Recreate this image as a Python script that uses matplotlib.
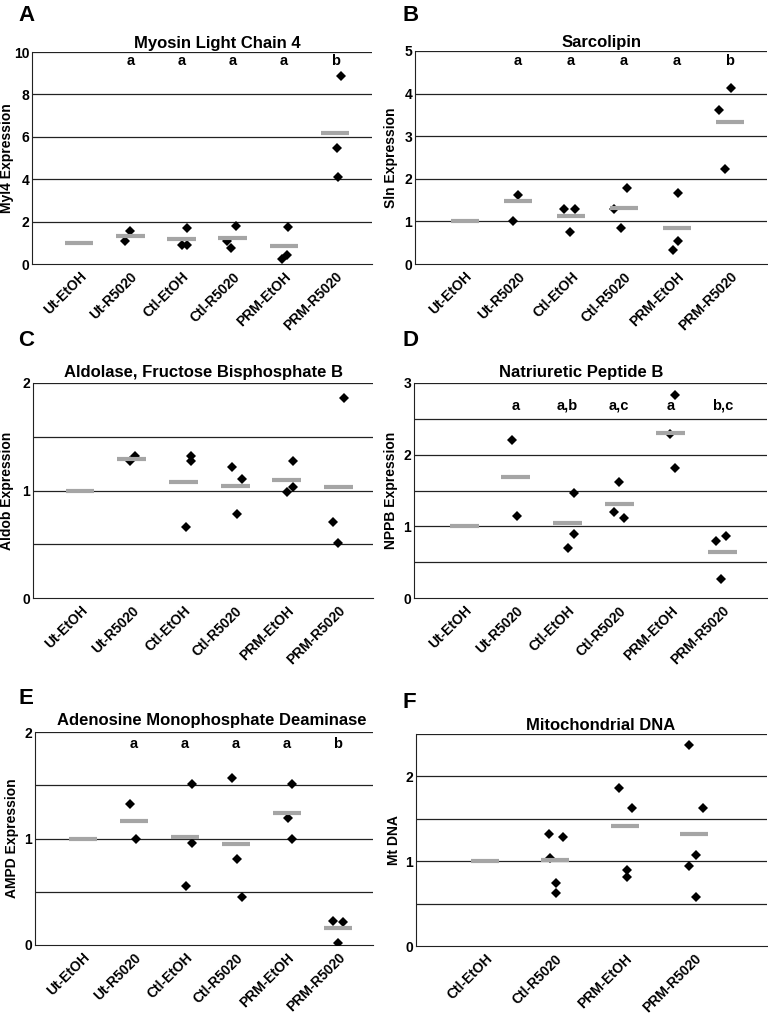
import matplotlib
matplotlib.use('Agg')
import matplotlib.pyplot as plt

plt.rcParams['font.family'] = ['Liberation Sans', 'DejaVu Sans']
plt.rcParams['font.weight'] = 'bold'

# categories
CATS6 = ['Ut-EtOH', 'Ut-R5020', 'Ctl-EtOH', 'Ctl-R5020', 'PRM-EtOH', 'PRM-R5020']
CATS4 = ['Ctl-EtOH', 'Ctl-R5020', 'PRM-EtOH', 'PRM-R5020']

# A: Myosin light chain 4
myl4_points = [[], [1.55, 1.1], [1.7, 0.9, 0.9], [1.8, 1.1, 0.77],
               [1.73, 0.42, 0.22], [8.88, 5.45, 4.11]]
myl4_means = [1.0, 1.33, 1.16, 1.25, 0.85, 6.18]
myl4_letters = ['', 'a', 'a', 'a', 'a', 'b']

# B: Sarcolipin
sln_points = [[], [1.62, 1.0], [1.3, 1.3, 0.75], [1.79, 1.3, 0.84],
              [1.67, 0.55, 0.32], [4.13, 3.61, 2.22]]
sln_means = [1.0, 1.48, 1.13, 1.31, 0.84, 3.33]
sln_letters = ['', 'a', 'a', 'a', 'a', 'b']

# C: Aldolase B
aldob_points = [[], [1.32, 1.27], [1.32, 1.27, 0.66], [1.22, 1.11, 0.78],
                [1.27, 1.035, 0.99], [1.86, 0.71, 0.51]]
aldob_means = [1.0, 1.29, 1.08, 1.045, 1.10, 1.035]

# D: Natriuretic peptide B
nppb_points = [[], [2.21, 1.15], [1.46, 0.9, 0.70], [1.62, 1.195, 1.11],
               [2.83, 2.29, 1.81], [0.87, 0.79, 0.26]]
nppb_means = [1.0, 1.69, 1.04, 1.31, 2.30, 0.64]
nppb_letters = ['', 'a', 'a,b', 'a,c', 'a', 'b,c']

# E: AMP deaminase
ampd_points = [[], [1.32, 0.995], [1.51, 0.96, 0.555], [1.566, 0.81, 0.45],
               [1.51, 1.19, 0.995], [0.23, 0.215, 0.02]]
ampd_means = [1.0, 1.16, 1.01, 0.945, 1.235, 0.16]
ampd_letters = ['', 'a', 'a', 'a', 'a', 'b']

# F: Mitochondrial DNA
mtdna_points = [[], [1.32, 1.28, 1.035, 0.74, 0.63], [1.86, 1.63, 0.90, 0.81],
                [2.37, 1.63, 1.07, 0.94, 0.575]]
mtdna_means = [1.0, 1.01, 1.42, 1.32]

# horizontal scatter of the diamonds (category units), layout only
myl4_jit = [[], [0.0, -0.1], [0.1, 0.0, 0.1], [0.07, -0.12, -0.03],
            [0.08, 0.06, -0.03], [0.12, 0.03, 0.05]]
sln_jit = [[], [0.0, -0.1], [-0.13, 0.08, -0.02], [0.06, -0.18, -0.06],
           [0.03, 0.03, -0.08], [0.02, -0.2, -0.1]]
aldob_jit = [[], [0.06, -0.03], [0.14, 0.14, 0.06], [-0.05, 0.13, 0.03],
             [0.12, 0.12, 0.01], [0.1, -0.11, 0.0]]
nppb_jit = [[], [-0.08, 0.03], [0.12, 0.12, 0.0], [0.0, -0.1, 0.1],
            [0.08, -0.02, 0.08], [0.06, -0.13, -0.03]]
ampd_jit = [[], [-0.07, 0.04], [0.13, 0.13, 0.03], [-0.07, 0.03, 0.13],
            [0.11, 0.03, 0.11], [-0.1, 0.1, 0.0]]
mtdna_jit = [[], [-0.08, 0.12, -0.07, 0.01, 0.01], [-0.08, 0.11, 0.03, 0.03],
             [-0.08, 0.13, 0.02, -0.08, 0.02]]

W, H = 768.0, 1016.0


def rect(left, top, right, bottom):
    return [left / W, 1 - bottom / H, (right - left) / W, (bottom - top) / H]


def draw_panel(fig, box, cats, points, jit, means, title, ylabel, ylim,
               grid, yticks, xlim, bar_half, title_x, title_pad, label_px,
               letters=None, letter_y=None):
    ax = fig.add_axes(rect(*box))
    for v in grid:
        ax.axhline(v, color='#222222', lw=0.9, zorder=1)
    for i, (pts, offs) in enumerate(zip(points, jit)):
        xs = [i + o for o in offs]
        ax.plot(xs, pts, linestyle='none', marker='D', markersize=4.8,
                color='black', markeredgewidth=0, zorder=3)
    ax.hlines(means, [i - bar_half for i in range(len(cats))],
              [i + bar_half for i in range(len(cats))],
              color='#a5a5a5', lw=3.0, zorder=4)
    if letters:
        for i, t in enumerate(letters):
            ax.text(i, letter_y, t, ha='center', va='center', fontsize=10.5,
                    fontweight='bold')
    ax.set_xlim(*xlim)
    ax.set_ylim(*ylim)
    ax.set_yticks(yticks)
    ax.set_yticklabels([str(t) for t in yticks], fontsize=10, fontweight='bold')
    ax.set_xticks(range(len(cats)))
    ax.set_xticklabels(cats, rotation=45, ha='right', rotation_mode='anchor',
                       fontsize=10, fontweight='bold')
    ax.tick_params(axis='y', length=0, pad=2)
    ax.tick_params(axis='x', length=0, pad=4)
    ax.spines['top'].set_visible(False)
    ax.spines['right'].set_visible(False)
    ax.spines['left'].set_color('#222222')
    ax.spines['bottom'].set_color('#222222')
    ax.set_ylabel(ylabel, fontsize=10, fontweight='bold')
    left, right = box[0], box[2]
    ax.yaxis.set_label_coords((label_px - left) / (right - left), 0.5)
    ax.set_title(title, fontsize=12, fontweight='bold', x=title_x,
                 pad=title_pad)
    return ax


fig = plt.figure(figsize=(7.68, 10.16), dpi=100)

draw_panel(fig, (32, 52, 372, 264), CATS6, myl4_points, myl4_jit,
           myl4_means, 'Myosin Light Chain 4', 'Myl4 Expression', (0, 10),
           [2, 4, 6, 8, 10], [0, 2, 4, 6, 8, 10], (-0.92, 5.72), 0.28,
           0.544, 3, 14, myl4_letters, 9.56)
draw_panel(fig, (415, 51, 767, 264), CATS6, sln_points, sln_jit,
           sln_means, 'Sarcolipin', 'Sln Expression', (0, 5),
           [1, 2, 3, 4, 5], [0, 1, 2, 3, 4, 5], (-0.94, 5.7), 0.26,
           0.53, 3, 398, sln_letters, 4.76)
draw_panel(fig, (33, 383, 373, 598), CATS6, aldob_points, aldob_jit,
           aldob_means, 'Aldolase, Fructose Bisphosphate B', 'Aldob Expression',
           (0, 2), [0.5, 1, 1.5, 2], [0, 1, 2], (-0.91, 5.67), 0.28,
           0.5, 4, 14)
draw_panel(fig, (414, 383, 767, 598), CATS6, nppb_points, nppb_jit,
           nppb_means, 'Natriuretic Peptide B', 'NPPB Expression',
           (0, 3), [0.5, 1, 1.5, 2, 2.5, 3], [0, 1, 2, 3], (-0.97, 5.86), 0.28,
           0.473, 4, 398, nppb_letters, 2.68)
draw_panel(fig, (35, 732, 373, 945), CATS6, ampd_points, ampd_jit,
           ampd_means, 'Adenosine Monophosphate Deaminase', 'AMPD Expression',
           (0, 2), [0.5, 1, 1.5, 2], [0, 1, 2], (-0.94, 5.69), 0.28,
           0.524, 5, 19, ampd_letters, 1.89)
draw_panel(fig, (416, 734, 767, 946), CATS4, mtdna_points, mtdna_jit,
           mtdna_means, 'Mitochondrial DNA', 'Mt DNA',
           (0, 2.5), [0.5, 1, 1.5, 2, 2.5], [0, 1, 2], (-0.99, 4.04), 0.2,
           0.527, 3, 401)

panel_labels = [('A', 18, 5), ('B', 402, 5), ('C', 18, 330), ('D', 402, 330),
                ('E', 18, 688), ('F', 402, 692)]
for lab, px, py in panel_labels:
    fig.text(px / W, 1 - py / H, lab, fontsize=16, fontweight='bold',
             ha='left', va='top')

fig.savefig('out.png', dpi=100)
